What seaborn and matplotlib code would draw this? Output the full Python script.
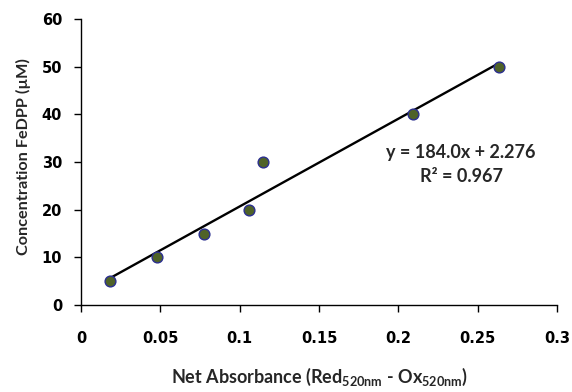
import matplotlib
matplotlib.use("Agg")
import matplotlib.pyplot as plt
import seaborn as sns
import numpy as np
import pandas as pd

absorbance = [0.0183, 0.0479, 0.0775, 0.1060, 0.1147, 0.2090, 0.2634]
concentration = [5, 10, 15, 20, 30, 40, 50]
slope = 184.0
intercept = 2.276
r2 = 0.967
x_ticks = [0, 0.05, 0.1, 0.15, 0.2, 0.25, 0.3]
x_ticklabels = ["0", "0.05", "0.1", "0.15", "0.2", "0.25", "0.3"]
y_ticks = [0, 10, 20, 30, 40, 50, 60]

sns.set_theme(style="ticks")
plt.rcParams["font.family"] = ["Lato", "DejaVu Sans"]
plt.rcParams["mathtext.fontset"] = "custom"
plt.rcParams["mathtext.rm"] = "Lato"
plt.rcParams["mathtext.bf"] = "Lato:bold"

df = pd.DataFrame({"x": absorbance, "y": concentration})
xs = np.array([min(absorbance), max(absorbance)])
fit = pd.DataFrame({"x": xs, "y": slope * xs + intercept})

fig = plt.figure(figsize=(5.72, 3.92), dpi=100)
ax = fig.add_axes([0.1416, 0.2219, 0.8322, 0.7296])

sns.lineplot(data=fit, x="x", y="y", ax=ax, color="black", linewidth=1.7, zorder=2)
sns.scatterplot(data=df, x="x", y="y", ax=ax, color="#4F6228", edgecolor="#2B2F8F",
                linewidth=1.0, s=60, zorder=3)

ax.set_xlim(0, 0.3)
ax.set_ylim(0, 60)
ax.set_xticks(x_ticks)
ax.set_xticklabels(x_ticklabels)
ax.set_yticks(y_ticks)
for lab in ax.get_xticklabels() + ax.get_yticklabels():
    lab.set_family(["DejaVu Sans"])
    lab.set_fontweight("bold")
    lab.set_fontsize(10.5)
    lab.set_color("black")
ax.tick_params(axis="both", length=5, width=1, color="black")
ax.tick_params(axis="y", pad=8.5)
ax.tick_params(axis="x", pad=14)
sns.despine(ax=ax)
for sp in ["left", "bottom"]:
    ax.spines[sp].set_color("black")
    ax.spines[sp].set_linewidth(1)

ax.set_xlabel(r"Net Absorbance (Red$_{\mathregular{520nm}}$ - Ox$_{\mathregular{520nm}}$)",
              fontsize=13, fontweight="bold", labelpad=14)
ax.set_ylabel("Concentration FeDPP (\u00b5M)", fontsize=11.7, fontweight="bold")
ax.yaxis.set_label_coords(-0.105, 0.52)

ax.text(0.2395, 31.9, f"y = {slope:.1f}x + {intercept:.3f}", ha="center", va="center",
        fontsize=13, fontweight="bold")
ax.text(0.2395, 26.9, f"R\u00b2 = {r2:.3f}", ha="center", va="center",
        fontsize=13, fontweight="bold")

fig.savefig("out.png", dpi=100)
